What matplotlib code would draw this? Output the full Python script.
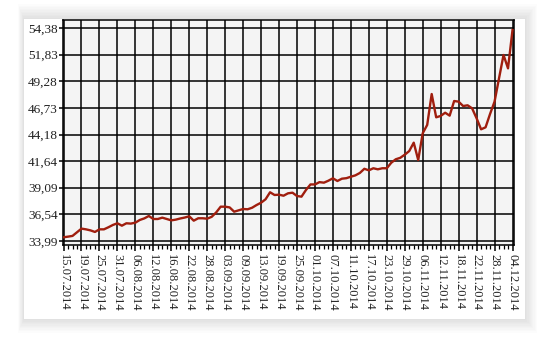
import numpy as np
import matplotlib
matplotlib.use("Agg")
import matplotlib.pyplot as plt
from matplotlib.patches import Rectangle

# курс по дням
values = [34.34, 34.40, 34.47, 34.82, 35.17, 35.10, 35.00, 34.85, 35.10, 35.10,
          35.30, 35.52, 35.68, 35.45, 35.68, 35.65, 35.74, 36.00, 36.15, 36.38,
          36.09, 36.09, 36.22, 36.09, 35.96, 36.03, 36.14, 36.23, 36.35, 35.93,
          36.16, 36.16, 36.12, 36.30, 36.72, 37.27, 37.27, 37.20, 36.79, 36.92,
          37.05, 37.02, 37.17, 37.43, 37.65, 37.98, 38.65, 38.39, 38.42, 38.32,
          38.55, 38.61, 38.29, 38.23, 38.87, 39.40, 39.40, 39.62, 39.57, 39.76,
          39.99, 39.73, 39.95, 40.00, 40.14, 40.27, 40.50, 40.90, 40.75, 40.95,
          40.85, 40.95, 40.95, 41.48, 41.81, 41.95, 42.25, 42.60, 43.40, 41.74,
          44.30, 45.10, 48.06, 45.83, 45.96, 46.27, 45.99, 47.39, 47.33, 46.91,
          46.98, 46.69, 45.74, 44.68, 44.87, 46.15, 47.33, 49.57, 51.80, 50.52,
          54.19]

date_labels = ['15.07.2014', '19.07.2014', '25.07.2014', '31.07.2014', '06.08.2014',
               '12.08.2014', '16.08.2014', '22.08.2014', '28.08.2014', '03.09.2014',
               '09.09.2014', '13.09.2014', '19.09.2014', '25.09.2014', '01.10.2014',
               '07.10.2014', '11.10.2014', '17.10.2014', '23.10.2014', '29.10.2014',
               '06.11.2014', '12.11.2014', '18.11.2014', '22.11.2014', '28.11.2014',
               '04.12.2014']
label_step = 4

y_labels = ['33,99', '36,54', '39,09', '41,64', '44,18', '46,73', '49,28', '51,83', '54,38']
y_ticks = [float(s.replace(',', '.')) for s in y_labels]

x = np.arange(len(values))

fig = plt.figure(figsize=(5.48, 3.37), dpi=100)
fig.patch.set_facecolor('white')

# мягкая тень вокруг карточки
W, H = 548.0, 337.0
cx0, cy0, cx1, cy1 = 24, 19, 525, 319
for i in range(10):
    d = 15 - i * 1.5
    fig.patches.append(Rectangle(((cx0 - d * 0.4) / W, 1 - (cy1 + d * 0.9) / H),
                                 (cx1 - cx0 + d * 1.2) / W, (cy1 - cy0 + d * 1.9) / H,
                                 transform=fig.transFigure, facecolor='black',
                                 edgecolor='none', alpha=0.011, zorder=-2))
fig.patches.append(Rectangle((cx0 / W, 1 - cy1 / H), (cx1 - cx0) / W, (cy1 - cy0) / H,
                             transform=fig.transFigure, facecolor='white',
                             edgecolor='none', zorder=-1))

ax = fig.add_axes([63.3 / W, 1 - 245 / H, (514.3 - 63.3) / W, (245 - 20) / H])
ax.set_zorder(2)
ax.set_facecolor('#f4f4f4')

ax.plot(x, values, color='#a01e0e', lw=1.7, zorder=3, solid_joinstyle='round')

ax.set_xlim(-0.05, 100.4)
ax.set_ylim(33.6, 55.15)

ax.set_xticks(x[::label_step])
ax.set_xticklabels(date_labels, rotation=270, family='Liberation Serif',
                   fontsize=9, color='#222222', va='top', ha='center')
ax.set_xticks(x, minor=True)
ax.set_yticks(y_ticks)
ax.set_yticklabels(y_labels, family='Liberation Serif', fontsize=9.5, color='#222222')

ax.grid(True, which='major', color='black', lw=1.1)
ax.set_axisbelow(True)
for s in ax.spines.values():
    s.set_color('black')
    s.set_linewidth(1.1)

ax.tick_params(axis='x', which='major', length=4.5, width=1.1, pad=2, color='black')
ax.tick_params(axis='x', which='minor', length=3, width=0.9, color='black')
ax.tick_params(axis='y', which='major', length=3, width=1.1, pad=1, color='black')

fig.savefig('out.png', dpi=100, facecolor='white')
